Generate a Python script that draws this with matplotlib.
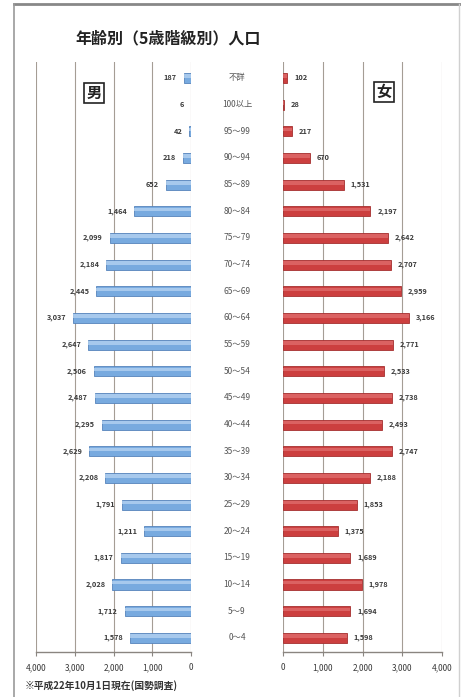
import matplotlib
matplotlib.use("Agg")
import matplotlib.pyplot as plt
from matplotlib.ticker import FuncFormatter

plt.rcParams['font.family'] = ['Noto Sans CJK JP', 'DejaVu Sans']

# age groups, top row first
ages = ["不詳", "100以上", "95～99", "90～94", "85～89", "80～84", "75～79",
        "70～74", "65～69", "60～64", "55～59", "50～54", "45～49", "40～44",
        "35～39", "30～34", "25～29", "20～24", "15～19", "10～14", "5～9", "0～4"]
male = [187, 6, 42, 218, 652, 1464, 2099, 2184, 2445, 3037, 2647, 2506,
        2487, 2295, 2629, 2208, 1791, 1211, 1817, 2028, 1712, 1578]
female = [102, 28, 217, 670, 1531, 2197, 2642, 2707, 2959, 3166, 2771, 2533,
          2738, 2493, 2747, 2188, 1853, 1375, 1689, 1978, 1694, 1598]
ticks = [0, 1000, 2000, 3000, 4000]

W, H = 461, 697
fig = plt.figure(figsize=(W / 100, H / 100), dpi=100)
fig.patch.set_facecolor("white")

def fx(px):
    return px / W

def fy(py):
    return 1 - py / H

y = list(range(len(ages)))
bottom, top = fy(652), fy(62)
ax_m = fig.add_axes([fx(36), bottom, fx(191 - 36), top - bottom])
ax_f = fig.add_axes([fx(283), bottom, fx(442 - 283), top - bottom])

grid_c = "#a59d95"
txt_c = "#3a3a3a"
fmt = FuncFormatter(lambda v, p: f"{int(v):,}")


def style(ax):
    ax.set_ylim(21.53, -0.6)
    ax.set_xticks(ticks)
    ax.xaxis.set_major_formatter(fmt)
    ax.set_yticks([])
    for s in ("top", "right", "left"):
        ax.spines[s].set_visible(False)
    ax.spines["bottom"].set_color("#8a8580")
    ax.spines["bottom"].set_linewidth(1.0)
    ax.tick_params(axis="x", length=3, width=0.8, color="#8a8580",
                   labelsize=6, labelcolor=txt_c, pad=5)
    for t in ticks:
        ax.axvline(t, color=grid_c, lw=0.8, zorder=0)
    ax.set_facecolor("none")


def bars(ax, vals, base, light, dark):
    # three layers give the bars a soft shaded look
    ax.barh(y, vals, height=bh, color=base, edgecolor=dark,
            linewidth=0.6, zorder=2)
    ax.barh([v - 0.07 for v in y], vals, height=bh * 0.35, color=light,
            linewidth=0, alpha=0.8, zorder=3)


bh = 0.38
# male side, axis runs right to left
ax_m.set_xlim(4000, 0)
bars(ax_m, male, "#78aadf", "#b3d2f1", "#5683bb")
style(ax_m)
for yi, v in zip(y, male):
    ax_m.annotate(f"{v:,}", (v, yi), xytext=(-5, 0), textcoords="offset points",
                  ha="right", va="center", fontsize=5.3, color=txt_c,
                  fontweight="bold")

# female side
ax_f.set_xlim(0, 4000)
bars(ax_f, female, "#cc3f3f", "#df6b6b", "#a53030")
style(ax_f)
for yi, v in zip(y, female):
    ax_f.annotate(f"{v:,}", (v, yi), xytext=(5, 0), textcoords="offset points",
                  ha="left", va="center", fontsize=5.3, color=txt_c,
                  fontweight="bold")

# age group labels between the two panels
for yi, a in zip(y, ages):
    yy = ax_m.transData.transform((0, yi))[1]
    fy_ = fig.transFigure.inverted().transform((0, yy))[1]
    fig.text(fx(237), fy_, a, ha="center", va="center", fontsize=6,
             color="#555555")

fig.text(fx(75), fy(38), "年齢別（5歳階級別）人口", ha="left", va="center",
         fontsize=11.5, fontweight="bold", color="#222222")

box = dict(boxstyle="square,pad=0.15", facecolor="white", edgecolor="#222222",
           linewidth=1.2)
fig.text(fx(94), fy(93), "男", ha="center", va="center", fontsize=11,
         fontweight="bold", color="#222222", bbox=box)
fig.text(fx(384), fy(92), "女", ha="center", va="center", fontsize=11,
         fontweight="bold", color="#222222", bbox=box)

fig.text(fx(25), fy(686), "※平成22年10月1日現在(国勢調査)", ha="left",
         va="center", fontsize=7, fontweight="bold", color="#333333")

# outer frame: dark top edge, lighter sides
line = dict(transform=fig.transFigure)
fig.add_artist(plt.Line2D([fx(14), fx(461)], [fy(3.5), fy(3.5)],
                          color="#888888", lw=2, **line))
fig.add_artist(plt.Line2D([fx(14), fx(14)], [fy(3.5), fy(697)],
                          color="#9a9a9a", lw=1.2, **line))
fig.add_artist(plt.Line2D([fx(459), fx(459)], [fy(3.5), fy(697)],
                          color="#d0d0d0", lw=1, **line))

fig.savefig("out.png", dpi=100)
